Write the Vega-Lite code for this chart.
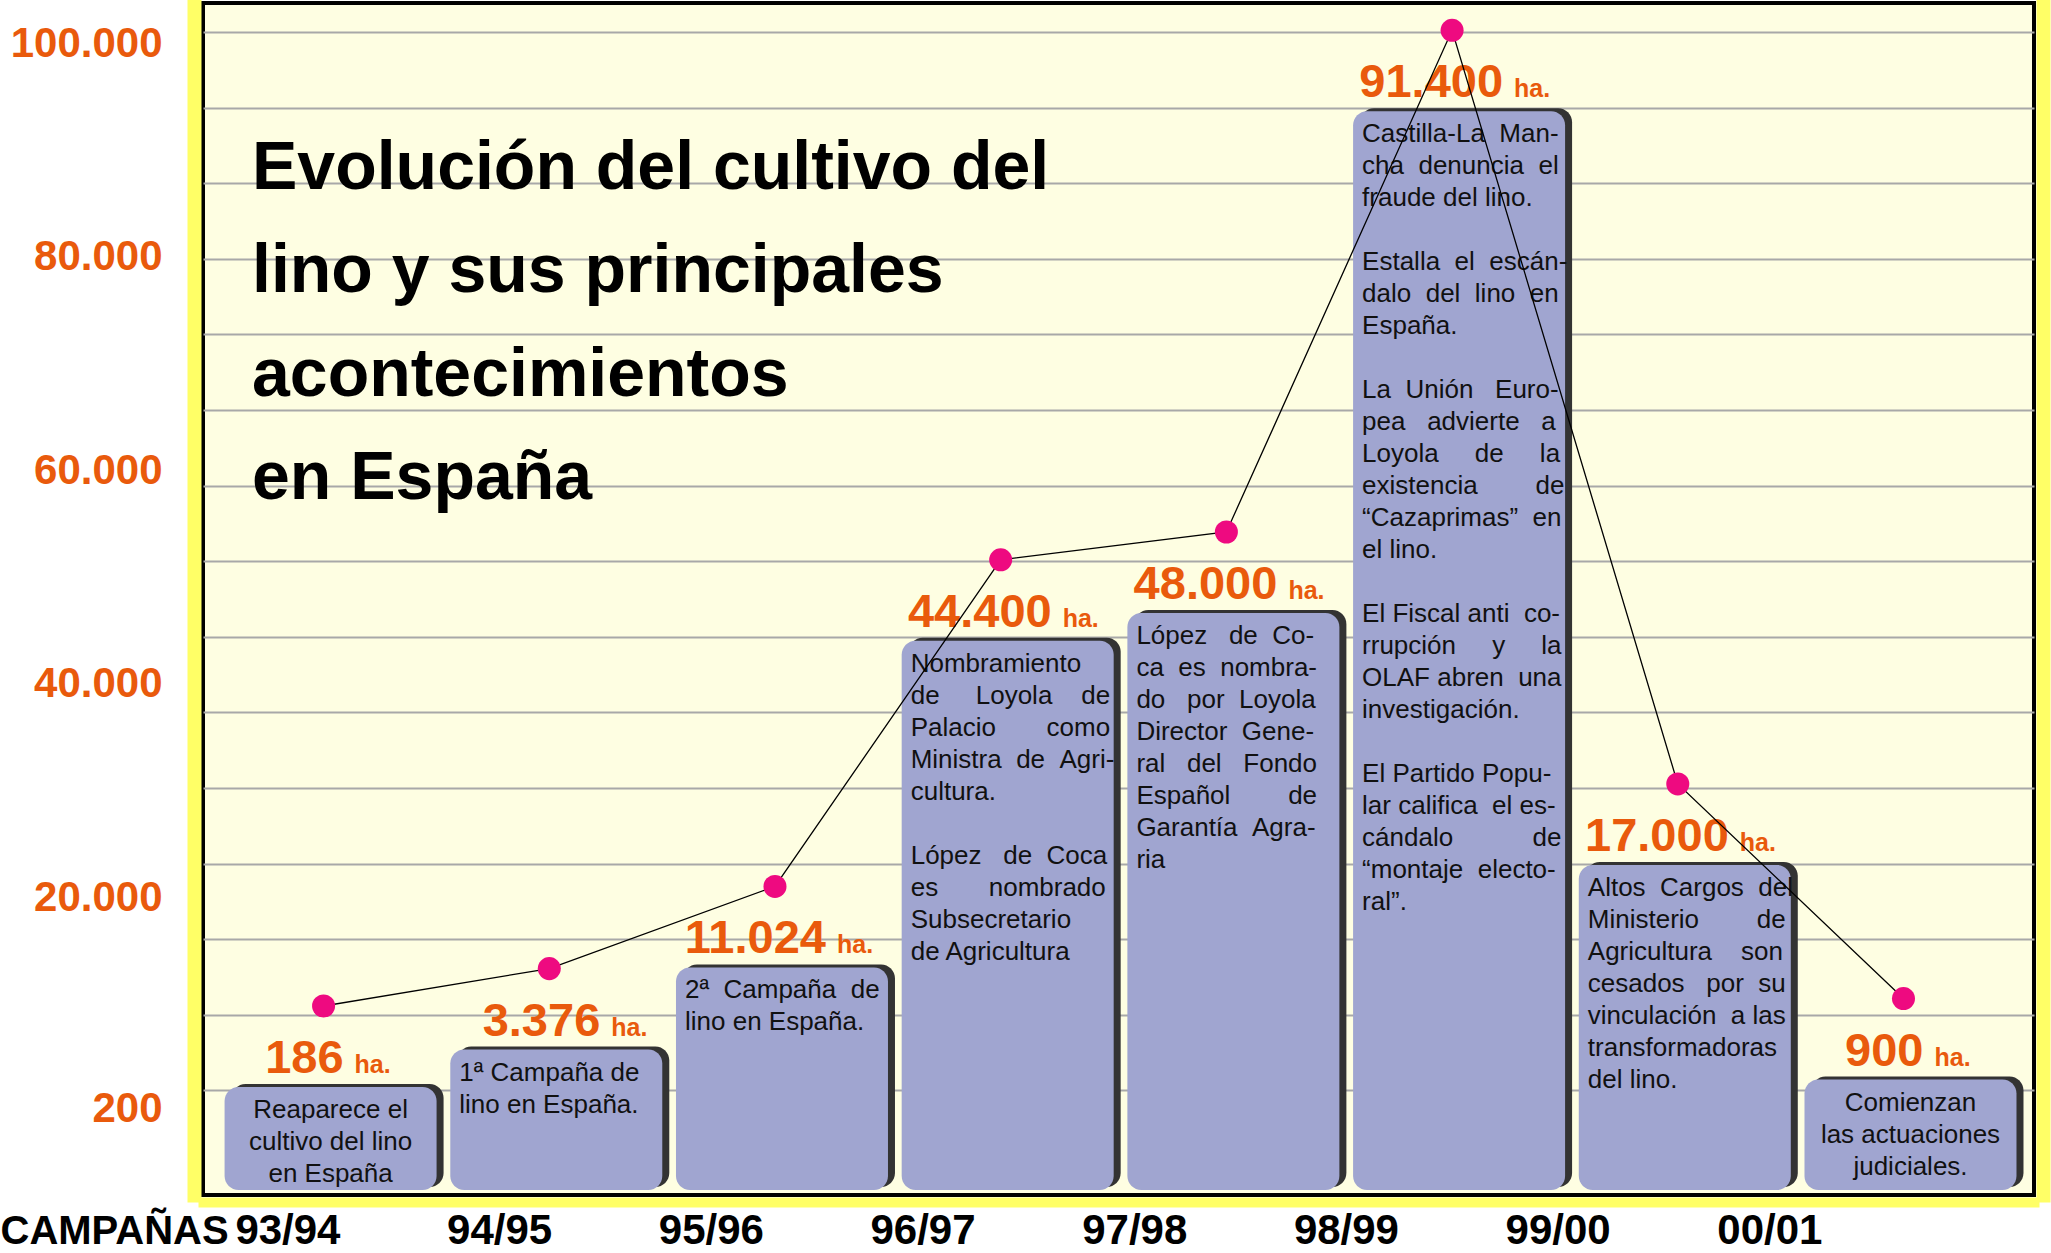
{
  "$schema": "https://vega.github.io/schema/vega-lite/v6.json",
  "width": 1831,
  "height": 1192,
  "autosize": "none",
  "padding": {"left": 203, "top": 3, "right": 17, "bottom": 58},
  "background": "#FFFFFF",
  "title": {
    "text": ["Evolución del cultivo del", "lino y sus principales", "acontecimientos", "en España"],
    "anchor": "start",
    "frame": "group",
    "orient": "top",
    "baseline": "top",
    "offset": 0,
    "dx": 49,
    "dy": 510,
    "font": "Liberation Sans",
    "fontSize": 68,
    "fontWeight": "bold",
    "color": "#000000",
    "lineHeight": 103.5
  },
  "data": {
    "values": [
      {"campaña": "93/94", "ha": 186, "nivel": 9800, "texto": ["Reaparece el", "cultivo del lino", "en España"]},
      {"campaña": "94/95", "ha": 3376, "nivel": 13300, "texto": ["1ª Campaña de", "lino en España."]},
      {"campaña": "95/96", "ha": 11024, "nivel": 21000, "texto": ["2ª\u00a0\u00a0Campaña\u00a0\u00a0de", "lino en España."]},
      {"campaña": "96/97", "ha": 44400, "nivel": 51600,
       "texto": ["Nombramiento", "de\u00a0\u00a0\u00a0\u00a0\u00a0Loyola\u00a0\u00a0\u00a0\u00a0de", "Palacio\u00a0\u00a0\u00a0\u00a0\u00a0\u00a0\u00a0como", "Ministra\u00a0\u00a0de\u00a0\u00a0Agri-", "cultura."],
       "texto2": ["López\u00a0\u00a0\u00a0de\u00a0\u00a0Coca", "es\u00a0\u00a0\u00a0\u00a0\u00a0\u00a0\u00a0nombrado", "Subsecretario", "de Agricultura"]},
      {"campaña": "97/98", "ha": 48000, "nivel": 54200, "texto": ["López\u00a0\u00a0\u00a0de\u00a0\u00a0Co-", "ca\u00a0\u00a0es\u00a0\u00a0nombra-", "do\u00a0\u00a0\u00a0por\u00a0\u00a0Loyola", "Director\u00a0\u00a0Gene-", "ral\u00a0\u00a0\u00a0del\u00a0\u00a0\u00a0Fondo", "Español\u00a0\u00a0\u00a0\u00a0\u00a0\u00a0\u00a0\u00a0de", "Garantía\u00a0\u00a0Agra-", "ria"]},
      {"campaña": "98/99", "ha": 91400, "nivel": 101200,
       "texto": ["Castilla-La\u00a0\u00a0Man-", "cha\u00a0\u00a0denuncia\u00a0\u00a0el", "fraude del lino."],
       "texto2": ["Estalla\u00a0\u00a0el\u00a0\u00a0escán-", "dalo\u00a0\u00a0del\u00a0\u00a0lino\u00a0\u00a0en", "España."],
       "texto3": ["La\u00a0\u00a0Unión\u00a0\u00a0\u00a0Euro-", "pea\u00a0\u00a0\u00a0advierte\u00a0\u00a0\u00a0a", "Loyola\u00a0\u00a0\u00a0\u00a0\u00a0de\u00a0\u00a0\u00a0\u00a0\u00a0la", "existencia\u00a0\u00a0\u00a0\u00a0\u00a0\u00a0\u00a0\u00a0de", "“Cazaprimas”\u00a0\u00a0en", "el lino."],
       "texto4": ["El\u00a0Fiscal\u00a0anti\u00a0\u00a0co-", "rrupción\u00a0\u00a0\u00a0\u00a0\u00a0y\u00a0\u00a0\u00a0\u00a0\u00a0la", "OLAF\u00a0abren\u00a0\u00a0una", "investigación."],
       "texto5": ["El Partido Popu-", "lar\u00a0califica\u00a0\u00a0el\u00a0es-", "cándalo\u00a0\u00a0\u00a0\u00a0\u00a0\u00a0\u00a0\u00a0\u00a0\u00a0\u00a0de", "“montaje\u00a0\u00a0electo-", "ral”."]},
      {"campaña": "99/00", "ha": 17000, "nivel": 30600, "texto": ["Altos\u00a0\u00a0Cargos\u00a0\u00a0del", "Ministerio\u00a0\u00a0\u00a0\u00a0\u00a0\u00a0\u00a0\u00a0de", "Agricultura\u00a0\u00a0\u00a0\u00a0son", "cesados\u00a0\u00a0\u00a0por\u00a0\u00a0su", "vinculación\u00a0\u00a0a\u00a0las", "transformadoras", "del lino."]},
      {"campaña": "00/01", "ha": 900, "nivel": 10500, "texto": ["Comienzan", "las actuaciones", "judiciales."]}
    ]
  },
  "config": {
    "locale": {"number": {"decimal": ",", "thousands": ".", "grouping": [3], "currency": ["", " €"]}},
    "view": {"fill": "#FEFEE2", "stroke": "#000000", "strokeWidth": 4},
    "font": "Liberation Sans"
  },
  "resolve": {"scale": {"x": "independent"}, "axis": {"x": "independent", "y": "independent"}},
  "layer": [
    {
      "encoding": {
        "x": {"field": "campaña", "type": "nominal", "sort": null, "scale": {"type": "band", "paddingInner": 0.0607, "paddingOuter": 0.0866, "align": 0.552}, "axis": null},
        "y": {"field": "nivel", "type": "quantitative", "scale": {"domain": [-7906, 103756], "nice": false, "zero": false}, "axis": null}
      },
      "resolve": {"axis": {"y": "independent"}},
      "layer": [
        {
          "mark": {"type": "rect", "color": "#333333", "cornerRadius": 14, "xOffset": 7, "x2Offset": 7, "yOffset": 78, "y2Offset": -8},
          "encoding": {
            "y": {
              "field": "nivel", "type": "quantitative",
              "scale": {"domain": [-7906, 103756], "nice": false, "zero": false},
              "axis": {
                "orient": "left",
                "values": [200, 20000, 40000, 60000, 80000, 100000, 1892, 8974, 16056, 23138, 30220, 37302, 44384, 51466, 58548, 65630, 72712, 79794, 86876, 93958, 101040],
                "format": ",d",
                "labelExpr": "indexof([200,20000,40000,60000,80000,100000], datum.value) >= 0 ? datum.label : ''",
                "grid": true,
                "gridOpacity": {"condition": {"test": "indexof([200,20000,40000,60000,80000,100000], datum.value) >= 0", "value": 0}, "value": 1},
                "gridColor": "#A8A8A8",
                "gridWidth": 2,
                "ticks": false,
                "tickSize": 0,
                "domain": true,
                "domainColor": "#FFFF66",
                "domainWidth": 14,
                "domainCap": "square",
                "offset": 9,
                "labelPadding": 32,
                "labelFont": "Liberation Sans",
                "labelFontSize": 42,
                "labelFontWeight": "bold",
                "labelColor": "#E95A0C",
                "labelOverlap": false,
                "labelFlush": false,
                "labelBound": false,
                "title": null
              }
            },
            "y2": {"value": "height"}
          }
        },
        {
          "mark": {"type": "rect", "color": "#A0A5D0", "cornerRadius": 14, "yOffset": 81, "y2Offset": -5},
          "encoding": {"y2": {"value": "height"}}
        },
        {
          "encoding": {
            "x": {"field": "campaña", "type": "nominal", "sort": null, "bandPosition": 0, "scale": {"type": "band", "paddingInner": 0.0607, "paddingOuter": 0.0866, "align": 0.552}, "axis": null}
          },
          "layer": [
            {
              "transform": [{"filter": {"not": {"field": "campaña", "oneOf": ["93/94", "00/01"]}}}],
              "mark": {"type": "text", "align": "left", "baseline": "top", "dx": 9, "dy": 91, "fontSize": 26, "lineHeight": 32, "color": "#111111", "font": "Liberation Sans"},
              "encoding": {"text": {"field": "texto"}}
            },
            {
              "transform": [{"filter": {"field": "campaña", "equal": "96/97"}}],
              "mark": {"type": "text", "align": "left", "baseline": "top", "dx": 9, "dy": 283, "fontSize": 26, "lineHeight": 32, "color": "#111111", "font": "Liberation Sans"},
              "encoding": {"text": {"field": "texto2"}}
            },
            {
              "transform": [{"filter": {"field": "campaña", "equal": "98/99"}}],
              "mark": {"type": "text", "align": "left", "baseline": "top", "dx": 9, "dy": 219, "fontSize": 26, "lineHeight": 32, "color": "#111111", "font": "Liberation Sans"},
              "encoding": {"text": {"field": "texto2"}}
            },
            {
              "transform": [{"filter": {"field": "campaña", "equal": "98/99"}}],
              "mark": {"type": "text", "align": "left", "baseline": "top", "dx": 9, "dy": 347, "fontSize": 26, "lineHeight": 32, "color": "#111111", "font": "Liberation Sans"},
              "encoding": {"text": {"field": "texto3"}}
            },
            {
              "transform": [{"filter": {"field": "campaña", "equal": "98/99"}}],
              "mark": {"type": "text", "align": "left", "baseline": "top", "dx": 9, "dy": 571, "fontSize": 26, "lineHeight": 32, "color": "#111111", "font": "Liberation Sans"},
              "encoding": {"text": {"field": "texto4"}}
            },
            {
              "transform": [{"filter": {"field": "campaña", "equal": "98/99"}}],
              "mark": {"type": "text", "align": "left", "baseline": "top", "dx": 9, "dy": 731, "fontSize": 26, "lineHeight": 32, "color": "#111111", "font": "Liberation Sans"},
              "encoding": {"text": {"field": "texto5"}}
            }
          ]
        },
        {
          "transform": [{"filter": {"field": "campaña", "oneOf": ["93/94", "00/01"]}}],
          "mark": {"type": "text", "align": "center", "baseline": "top", "dy": 91, "fontSize": 26, "lineHeight": 32, "color": "#111111", "font": "Liberation Sans"},
          "encoding": {"text": {"field": "texto"}}
        },
        {
          "transform": [{"filter": {"field": "ha", "lt": 1000}}],
          "mark": {"type": "text", "align": "right", "baseline": "alphabetic", "dx": 13, "dy": 67, "font": "Liberation Sans", "fontSize": 47, "fontWeight": "bold", "color": "#E95A0C"},
          "encoding": {"text": {"field": "ha", "type": "quantitative", "format": ",d"}}
        },
        {
          "transform": [{"filter": {"field": "ha", "lt": 1000}}],
          "mark": {"type": "text", "align": "left", "baseline": "alphabetic", "dx": 24, "dy": 67, "font": "Liberation Sans", "fontSize": 25, "fontWeight": "bold", "color": "#E95A0C"},
          "encoding": {"text": {"value": "ha."}}
        },
        {
          "transform": [{"filter": {"field": "ha", "gte": 1000}}],
          "mark": {"type": "text", "align": "right", "baseline": "alphabetic", "dx": 44, "dy": 67, "font": "Liberation Sans", "fontSize": 47, "fontWeight": "bold", "color": "#E95A0C"},
          "encoding": {"text": {"field": "ha", "type": "quantitative", "format": ",d"}}
        },
        {
          "transform": [{"filter": {"field": "ha", "gte": 1000}}],
          "mark": {"type": "text", "align": "left", "baseline": "alphabetic", "dx": 55, "dy": 67, "font": "Liberation Sans", "fontSize": 25, "fontWeight": "bold", "color": "#E95A0C"},
          "encoding": {"text": {"value": "ha."}}
        },
        {
          "mark": {"type": "line", "color": "#000000", "strokeWidth": 1.3, "xOffset": -7}
        },
        {
          "mark": {"type": "point", "filled": true, "color": "#EE0A80", "size": 530, "opacity": 1, "xOffset": -7},
          "encoding": {
            "y": {
              "field": "nivel", "type": "quantitative",
              "scale": {"domain": [-7906, 103756], "nice": false, "zero": false},
              "axis": {"orient": "right", "offset": 9, "domain": true, "domainColor": "#FFFF66", "domainWidth": 14, "domainCap": "square", "labels": false, "ticks": false, "grid": false, "title": null}
            }
          }
        }
      ]
    },
    {
      "mark": {"type": "point", "opacity": 0},
      "encoding": {
        "x": {
          "field": "campaña", "type": "ordinal", "sort": null,
          "scale": {"type": "point", "padding": 0.8245, "align": 0.3924},
          "axis": {
            "orient": "bottom",
            "offset": 7,
            "domain": true,
            "domainColor": "#FFFF66",
            "domainWidth": 10,
            "domainCap": "square",
            "ticks": false,
            "tickSize": 0,
            "grid": false,
            "labelPadding": 8,
            "labelAngle": 0,
            "labelAlign": "right",
            "labelFont": "Liberation Sans",
            "labelFontSize": 42,
            "labelFontWeight": "bold",
            "labelColor": "#000000",
            "labelOverlap": false,
            "labelBound": false,
            "labelFlush": false,
            "title": "CAMPAÑAS",
            "titleFont": "Liberation Sans",
            "titleFontSize": 40,
            "titleFontWeight": "bold",
            "titleColor": "#000000",
            "titleAnchor": "start",
            "titleAlign": "left",
            "titleBaseline": "alphabetic",
            "titleX": -203,
            "titleY": 41
          }
        }
      }
    }
  ]
}
